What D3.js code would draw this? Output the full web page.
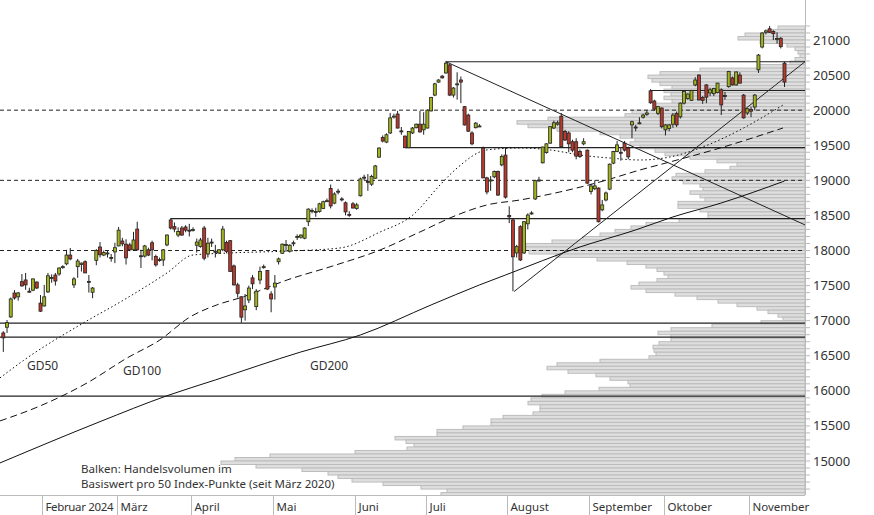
<!DOCTYPE html>
<html>
<head>
<meta charset="utf-8">
<script src="https://cdn.jsdelivr.net/npm/d3@7/dist/d3.min.js"></script>
<style>
  body { margin: 0; background: #fff; }
  text { font-family: "Noto Sans", "Open Sans", sans-serif; fill: #333; }
</style>
</head>
<body>
<svg id="chart" width="874" height="515"></svg>
<script>
// trading days from 17 Jan 2024, US calendar
const startDate = new Date(2024, 0, 17);
const holidays = ['2024-02-19', '2024-03-29', '2024-05-27', '2024-06-19', '2024-07-04', '2024-09-02', '2024-11-28'];
const monthLabels = ['Februar 2024', 'März', 'April', 'Mai', 'Juni', 'Juli', 'August', 'September', 'Oktober', 'November'];

// daily candles [open, high, low, close], one per trading day
const candles = [
  [16825,16850,16555,16755],[16906,17010,16825,16972],[17053,17330,17040,17309],[17394,17437,17300,17323],
  [17340,17410,17285,17395],[17556,17665,17485,17495],[17580,17680,17440,17510],[17420,17470,17400,17410],
  [17435,17600,17420,17595],[17550,17560,17450,17465],[17250,17365,17125,17135],[17210,17510,17200,17340],
  [17410,17680,17395,17640],[17600,17660,17540,17615],[17650,17680,17500,17565],[17665,17760,17640,17750],
  [17760,17790,17740,17770],[17810,18010,17790,17935],[17935,18035,17860,17880],[17510,17620,17465,17595],
  [17770,17880,17610,17850],[17800,17830,17700,17820],[17840,17860,17680,17680],[17560,17650,17400,17550],
  [17405,17480,17320,17465],[17860,18020,17790,18000],[18050,18120,17900,17940],[17935,18000,17920,17970],
  [17960,18000,17900,17965],[17900,17950,17840,17890],[17980,18110,17820,18040],[18065,18335,18060,18290],
  [18135,18180,18060,18095],[18090,18160,17800,17895],[18080,18110,17990,18010],[18010,18265,18000,18150],
  [18305,18410,18000,18010],[17925,18010,17750,17915],[17920,18080,17900,18065],[18010,18040,17920,17935],
  [18110,18140,17860,18010],[17915,17940,17770,17795],[17870,17900,17840,17865],[17865,18020,17780,18010],
  [18080,18230,18060,18220],[18435,18460,18300,18320],[18340,18400,18260,18305],[18220,18330,18190,18270],
  [18320,18350,18210,18220],[18335,18360,18260,18290],[18290,18380,18200,18285],[18300,18330,18270,18300],
  [18075,18170,17970,18120],[18055,18180,18040,18150],[18320,18350,17860,17890],[17950,18180,17900,18105],
  [18120,18170,18050,18115],[17990,18080,17900,17985],[17965,18020,17950,18010],[18010,18350,17990,18305],
  [18115,18140,17960,17985],[18140,18150,17700,17700],[17780,17800,17500,17510],[17510,17540,17330,17390],
  [17340,17350,16970,17050],[17155,17380,17000,17210],[17295,17500,17250,17465],[17610,17650,17450,17525],
  [17200,17450,17150,17420],[17580,17770,17520,17700],[17760,17800,17740,17770],[17715,17720,17440,17450],
  [17380,17420,17120,17310],[17480,17650,17300,17535],[17840,17900,17800,17880],[17960,18100,17950,18090],
  [18080,18150,17980,18085],[17990,18090,17970,18075],[18105,18140,18060,18110],[18195,18230,18150,18200],
  [18190,18230,18170,18220],[18175,18330,18160,18320],[18410,18600,18350,18590],[18570,18600,18530,18570],
  [18555,18610,18480,18555],[18555,18680,18540,18665],[18600,18710,18590,18695],[18705,18740,18690,18710],
  [18885,18940,18600,18635],[18675,18830,18660,18805],[18845,18880,18800,18840],[18735,18760,18700,18730],
  [18680,18700,18500,18550],[18515,18560,18480,18510],[18665,18690,18600,18605],[18600,18680,18580,18650],
  [18780,19040,18770,19020],[19045,19080,19000,19040],[18985,19090,18850,18980],[18945,19080,18920,19055],
  [19030,19220,19020,19205],[19330,19470,19320,19460],[19610,19640,19540,19560],[19545,19670,19530,19650],
  [19675,19960,19660,19890],[19910,19950,19880,19915],[19945,19990,19740,19745],[19705,19760,19650,19700],
  [19630,19640,19465,19465],[19465,19700,19460,19695],[19675,19760,19660,19745],[19750,19810,19740,19800],
  [19800,19990,19680,19690],[19720,19970,19650,19800],[19745,20010,19740,20000],[19990,20190,19980,20180],
  [20215,20390,20200,20375],[20400,20440,20390,20430],[20485,20500,20450,20460],[20530,20700,20520,20670],
  [20645,20660,20200,20215],[20215,20330,20180,20315],[20370,20540,20150,20375],[20430,20480,20100,20400],
  [20050,20060,19780,19790],[19930,19950,19690,19700],[19675,19700,19500,19520],[19750,19830,19740,19815],
  [19775,19800,19760,19775],[19460,19480,19030,19035],[19035,19050,18800,18835],[18990,19060,18850,19005],
  [19050,19140,19030,19125],[19125,19140,18780,18790],[19220,19370,19200,19340],[19360,19470,18740,18760],
  [18500,18630,18390,18480],[18435,18450,17420,17910],[17965,18080,17900,18055],[18340,18360,17850,17865],
  [17965,18420,17950,18410],[18380,18530,18300,18505],[18530,18560,18510,18535],[18735,19000,18720,18995],
  [19000,19050,18980,19005],[19250,19480,19240,19475],[19395,19530,19380,19520],[19530,19770,19520,19765],
  [19745,19850,19730,19820],[19800,19850,19780,19820],[19915,19960,19480,19480],[19695,19720,19560,19575],
  [19675,19700,19400,19520],[19550,19580,19400,19430],[19550,19600,19300,19345],[19410,19440,19320,19340],
  [19520,19600,19500,19550],[19430,19440,18950,18960],[18840,18950,18800,18920],[18880,19000,18860,18920],
  [18890,18900,18400,18410],[18580,18720,18560,18650],[18720,18840,18700,18820],[18875,19240,18860,19230],
  [19245,19420,19230,19410],[19410,19560,19400,19505],[19400,19460,19280,19390],[19530,19560,19410,19430],
  [19460,19480,19300,19335],[19790,19850,19600,19835],[19760,19790,19700,19750],[19810,19900,19800,19820],
  [19900,19950,19880,19930],[19940,20000,19920,19960],[20275,20300,20090,20105],[20130,20150,19990,20015],
  [19955,20060,19930,20050],[20030,20040,19740,19765],[19720,19800,19640,19790],[19740,19800,19700,19790],
  [19800,19960,19750,19930],[19955,19980,19760,19790],[19905,20110,19880,20100],[20100,20270,20080,20265],
  [20165,20240,20150,20230],[20140,20290,20130,20280],[20360,20470,20340,20430],[20500,20510,20140,20145],
  [20180,20200,20090,20140],[20360,20370,20100,20185],[20245,20320,20200,20290],[20235,20320,20200,20310],
  [20250,20390,20240,20385],[20290,20310,19930,20075],[20210,20260,20150,20200],[20335,20560,20320,20550],
  [20460,20480,20350,20360],[20360,20550,20350,20545],[20500,20540,20380,20385],[20215,20230,19880,19890],
  [19960,20030,19930,20020],[20010,20050,19900,19985],[20045,20230,20000,20215],[20575,20800,20530,20785],
  [20900,21110,20880,21100],[21110,21150,21080,21130],[21160,21200,21100,21110],[21120,21140,21000,21090],
  [21010,21110,20950,21020],[21025,21040,20880,20905],[20670,20690,20330,20400]
];

// moving averages [day, value]
const gd50 = [[-0.9,16184],[6.4,16469],[20.6,16939],[33.3,17324],[44,17680],[51,17936],[61,17965],[77,17993],
  [90.5,18036],[101.3,18264],[110.1,18506],[117.4,18934],[122,19176],[130,19433],[138.9,19461],[147,19433],
  [155,19361],[163,19318],[171.2,19290],[179.2,19333],[187.3,19461],[198,19718],[209.6,20074]];
const gd100 = [[-0.9,15571],[9.9,15785],[22.5,16112],[33.3,16469],[42.1,16725],[50.2,17053],[57.4,17224],
  [64.4,17338],[76.3,17580],[88.6,17780],[101.3,18008],[112,18264],[122,18506],[130,18649],[138.9,18720],
  [149.6,18834],[160.4,18977],[171.2,19148],[179.2,19262],[192.7,19461],[209.6,19746]];
const gd200 = [[-0.9,14972],[26,15561],[44,15930],[57,16155],[80,16554],[96,16796],[115,17224],[128,17509],
  [135,17651],[155,18050],[170,18293],[180,18478],[193,18677],[210,18990]];

// horizontal support / resistance lines [from day, level]
const levels = [[119, 20690], [174, 20280], [108, 19465], [45, 18455], [-1, 16965], [-1, 16765], [-1, 15925]];
const gridLevels = [18000, 19000, 20000];
// trend lines [day, value] pairs
const trends = [[[119, 20690], [215.5, 18365]], [[137.3, 17415], [215.5, 20690]]];

const yTicks = d3.range(15000, 21001, 500);
const minorTicks = d3.range(14600, 21201, 100);

// volume profile: bins of 50 points, from 21200 downwards
const volTop = 21200, volStep = 50;
const volume = [27,37,60,67,45,18,10,7,5,10,15,45,105,145,157,153,145,133,141,134,141,133,149,151,173,180,
  257,288,277,248,205,185,170,175,165,150,140,115,88,68,75,100,129,133,122,105,102,115,105,100,127,127,105,97,
  97,126,159,174,190,205,222,253,279,279,276,249,208,178,159,148,141,137,148,166,174,159,130,108,87,68,48,37,
  27,22,44,93,134,147,134,134,146,152,151,149,156,205,248,258,237,209,195,177,175,206,240,263,274,277,265,265,
  272,302,314,314,342,368,368,410,399,391,398,450,535,570,584,549,503,477,467,453,422,384,358,364,356];

const W = 805, H = 495;
const svg = d3.select('#chart');
const x = d3.scaleLinear().domain([0, 210]).range([3.3, 784.5]);
const y = d3.scaleLinear().domain([15000, 21000]).range([461, 40]);
const vx = d3.scaleLinear().domain([0, 805]).range([W, 0]);

svg.append('defs').append('clipPath').attr('id', 'plot')
  .append('rect').attr('width', W).attr('height', H);
const plot = svg.append('g').attr('clip-path', 'url(#plot)');

// volume bars
plot.append('g').selectAll('rect').data(volume).join('rect')
  .attr('x', d => vx(d))
  .attr('y', (d, i) => y(volTop - i * volStep))
  .attr('width', d => W - vx(d))
  .attr('height', y(0) - y(volStep))
  .attr('fill', '#dedede').attr('stroke', '#bcbcbc').attr('stroke-width', 1);

// legend text
const leg = svg.append('g').attr('font-size', 11.5);
leg.append('text').attr('x', 81).attr('y', 473).text('Balken: Handelsvolumen im');
leg.append('text').attr('x', 81).attr('y', 488).text('Basiswert pro 50 Index-Punkte (seit März 2020)');

// dashed grid lines
plot.append('g').selectAll('line').data(gridLevels).join('line')
  .attr('x1', 0).attr('x2', W).attr('y1', d => y(d)).attr('y2', d => y(d))
  .attr('stroke', '#222').attr('stroke-dasharray', '4,3');

// support/resistance
plot.append('g').selectAll('line').data(levels).join('line')
  .attr('x1', d => d[0] < 0 ? 0 : x(d[0])).attr('x2', W)
  .attr('y1', d => y(d[1])).attr('y2', d => y(d[1]))
  .attr('stroke', '#222').attr('stroke-width', 1.2);

// trend lines
plot.append('g').selectAll('line').data(trends).join('line')
  .attr('x1', d => x(d[0][0])).attr('y1', d => y(d[0][1]))
  .attr('x2', d => x(d[1][0])).attr('y2', d => y(d[1][1]))
  .attr('stroke', '#222').attr('stroke-width', 1);

// moving averages
const line = d3.line().x(d => x(d[0])).y(d => y(d[1])).curve(d3.curveMonotoneX);
[[gd50, '1.5,2.5'], [gd100, '7,4'], [gd200, null]].forEach(([data, dash]) => {
  plot.append('path').datum(data).attr('d', line)
    .attr('fill', 'none').attr('stroke', '#111').attr('stroke-width', 1)
    .attr('stroke-dasharray', dash);
});

// candles
const cg = plot.append('g').selectAll('g').data(candles).join('g');
cg.append('line')
  .attr('x1', (d, i) => x(i)).attr('x2', (d, i) => x(i))
  .attr('y1', d => y(d[1])).attr('y2', d => y(d[2]))
  .attr('stroke', '#222').attr('stroke-width', 1);
cg.append('rect')
  .attr('x', (d, i) => x(i) - 1.5).attr('width', 3)
  .attr('y', d => y(Math.max(d[0], d[3])))
  .attr('height', d => Math.max(1, Math.abs(y(d[0]) - y(d[3]))))
  .attr('fill', d => d[3] >= d[0] ? '#a3b41e' : '#b83a2c')
  .attr('stroke', '#222').attr('stroke-width', 0.8);

// MA labels
const lab = svg.append('g').attr('font-size', 12);
lab.append('text').attr('x', 27).attr('y', 370).text('GD50');
lab.append('text').attr('x', 123).attr('y', 375).text('GD100');
lab.append('text').attr('x', 310).attr('y', 370).text('GD200');

// right axis
const ra = svg.append('g');
ra.append('line').attr('x1', W + 0.5).attr('x2', W + 0.5).attr('y1', 0).attr('y2', H).attr('stroke', '#bbb');
ra.selectAll('.mt').data(minorTicks).join('line').attr('class', 'mt')
  .attr('x1', W).attr('x2', W + 5).attr('y1', d => y(d)).attr('y2', d => y(d)).attr('stroke', '#bbb');
ra.selectAll('text').data(yTicks).join('text')
  .attr('x', 813).attr('y', d => y(d)).attr('dy', '0.35em')
  .attr('font-size', 13).text(d => d);

// bottom axis with month ticks
const days = [];
for (let d = new Date(startDate); days.length <= 230; d.setDate(d.getDate() + 1)) {
  const wd = d.getDay();
  if (wd === 0 || wd === 6 || holidays.includes(d3.timeFormat('%Y-%m-%d')(d))) continue;
  days.push(new Date(d));
}
const monthStarts = [];
days.forEach((d, i) => {
  if (i > 0 && d.getMonth() !== days[i - 1].getMonth() && monthStarts.length < monthLabels.length) monthStarts.push(i);
});
const ba = svg.append('g');
ba.append('line').attr('x1', 0).attr('x2', W).attr('y1', H + 0.5).attr('y2', H + 0.5).attr('stroke', '#bbb');
const step = x(1) - x(0);
const mt = ba.selectAll('g').data(monthStarts).join('g')
  .attr('transform', d => `translate(${Math.round(x(d) - step / 2) + 0.5},0)`);
mt.append('line').attr('y1', H).attr('y2', 515).attr('stroke', '#bbb');
mt.append('text').attr('x', 3).attr('y', 511).attr('font-size', 11.5).attr('textLength', (d, i) => i === 0 ? 68 : null)
  .text((d, i) => monthLabels[i]);
</script>
</body>
</html>
